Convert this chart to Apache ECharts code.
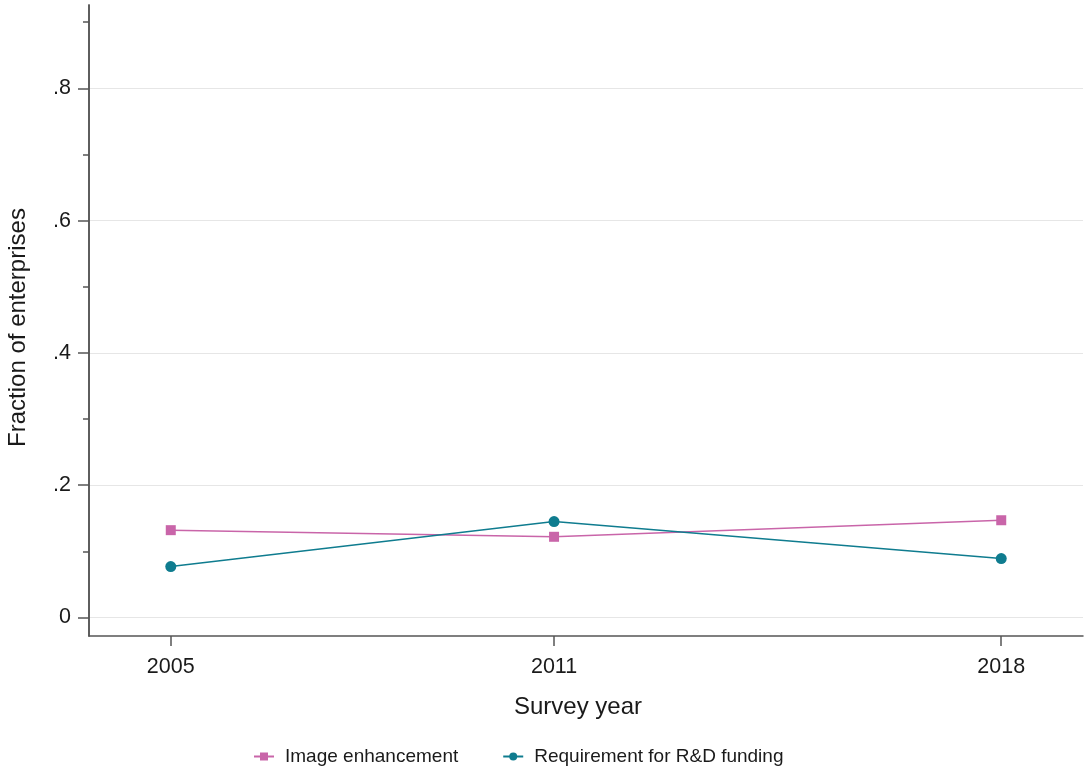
<!DOCTYPE html>
<html><head><meta charset="utf-8">
<script src="https://cdn.jsdelivr.net/npm/echarts@6/dist/echarts.min.js"></script>
<style>html,body{margin:0;padding:0;background:#fff}#c{width:1084px;height:769px}</style>
</head><body><div id="c"></div>
<script>
const years = [2005, 2011, 2018];
const imageEnhancement = [0.132, 0.122, 0.147];
const rdFunding = [0.077, 0.145, 0.089];
const yMajorTicks = [0, 0.2, 0.4, 0.6, 0.8];
const yMinorTicks = [0, 0.1, 0.2, 0.3, 0.4, 0.5, 0.6, 0.7, 0.8, 0.9];
const yTickLabels = {0: '0', 0.2: '.2', 0.4: '.4', 0.6: '.6', 0.8: '.8'};

const font = 'Liberation Sans, Arial, sans-serif';
const pink = '#c965a9';
const teal = '#0f7c8f';
const axisColor = '#555';
const textColor = '#1a1a1a';

const chart = echarts.init(document.getElementById('c'));
const yBase = {
  type: 'value', min: -0.028, max: 0.926, position: 'left',
  axisLine: {show: true, lineStyle: {color: axisColor, width: 1.5}}
};
chart.setOption({
  animation: false,
  grid: {left: 89, right: 1, top: 5, bottom: 133, containLabel: false, outerBoundsMode: 'none'},
  xAxis: {
    type: 'value', min: 2003.72, max: 2019.28,
    axisLine: {show: true, onZero: false, lineStyle: {color: axisColor, width: 1.5}},
    axisTick: {show: true, customValues: years, length: 10, lineStyle: {color: axisColor, width: 1.5}},
    axisLabel: {customValues: years, margin: 20, fontSize: 21.5, color: textColor, fontFamily: font, formatter: v => String(v)},
    splitLine: {show: false},
    name: 'Survey year', nameLocation: 'middle', nameGap: 59,
    nameTextStyle: {fontSize: 24, color: textColor, fontFamily: font, padding: [0, 16, 0, 0]}
  },
  yAxis: [
    Object.assign({}, yBase, {
      axisTick: {show: true, customValues: yMajorTicks, length: 11, lineStyle: {color: axisColor, width: 1.5}},
      axisLabel: {customValues: yMajorTicks, margin: 18, fontSize: 21.5, color: textColor, fontFamily: font,
        formatter: v => yTickLabels[Math.round(v * 10) / 10] ?? ''},
      splitLine: {show: true, customValues: yMinorTicks, lineStyle: {color: '#e6e6e6', width: 1.2}},
      name: 'Fraction of enterprises', nameLocation: 'middle', nameGap: 59,
      nameTextStyle: {fontSize: 24, color: textColor, fontFamily: font, padding: [0, 14, 0, 0]}
    }),
    Object.assign({}, yBase, {
      axisTick: {show: true, customValues: yMinorTicks, length: 6, lineStyle: {color: axisColor, width: 1.5}},
      axisLabel: {show: false},
      splitLine: {show: false}
    })
  ],
  legend: {
    top: 742, left: 248, itemGap: 44, itemWidth: 20, itemHeight: 10,
    textStyle: {fontSize: 19, color: textColor, fontFamily: font, padding: [0, 0, 0, 6]},
    data: ['Image enhancement', 'Requirement for R&D funding']
  },
  series: [
    {name: 'Image enhancement', type: 'line', data: years.map((y, i) => [y, imageEnhancement[i]]),
      symbol: 'rect', symbolSize: 10, lineStyle: {color: pink, width: 1.5}, itemStyle: {color: pink}},
    {name: 'Requirement for R&D funding', type: 'line', data: years.map((y, i) => [y, rdFunding[i]]),
      symbol: 'circle', symbolSize: 11, lineStyle: {color: teal, width: 1.5}, itemStyle: {color: teal}}
  ]
});
</script></body></html>
